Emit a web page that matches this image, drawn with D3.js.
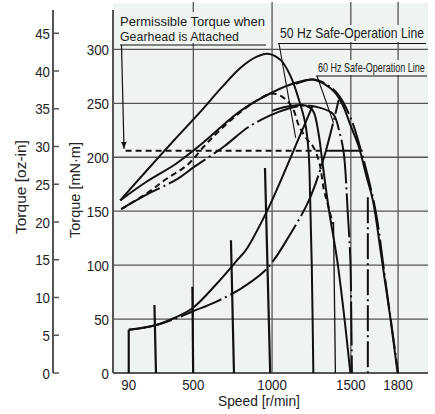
<!DOCTYPE html>
<html>
<head>
<meta charset="utf-8">
<script src="https://cdn.jsdelivr.net/npm/d3@7"></script>
<style>
  body { margin: 0; background: #fff; }
  svg text { font-family: "Liberation Sans", Arial, sans-serif; fill: #222; }
</style>
</head>
<body>
<div id="chart"></div>
<script>
// tick values
var speedTicks = [90, 500, 1000, 1500, 1800];
var torqueTicks = [0, 50, 100, 150, 200, 250, 300];
var ozTicks = [0, 5, 10, 15, 20, 25, 30, 35, 40, 45];

// curves, [speed r/min, torque mN·m]
var topCurve = [[36,160],[200,187],[379,216],[550,243],[676,264],[800,283],[900,293],[971,296],[1055,290],[1118,275],[1171,253],[1210,232],[1232,205],[1242,160],[1252,100],[1262,0]];
var curve60 = [[36,160],[200,177],[390,194],[550,212],[676,228],[800,243],[1000,260],[1150,269],[1260,272],[1330,268],[1400,260],[1450,248],[1497,230],[1550,210],[1600,182],[1640,160],[1697,105],[1750,52],[1797,0]];
var curve60b = [[1150,268],[1260,272],[1340,268],[1420,258],[1500,236],[1565,206],[1655,152],[1720,85],[1800,0]];
var dashedCurve = [[42,152],[200,166],[330,180],[463,193],[580,212],[676,226],[800,242],[920,254],[1000,259],[1065,256],[1129,246],[1171,229],[1220,217],[1260,210],[1300,195],[1329,170],[1360,153],[1385,138]];
var dashDotCurve = [[42,152],[200,165],[400,180],[505,191],[695,210],[850,228],[992,239],[1100,245],[1213,248],[1300,246],[1388,240],[1430,222],[1455,204],[1480,150],[1497,105],[1503,50],[1507,0]];
var curve50 = [[1000,243],[1100,247],[1213,248],[1260,243],[1295,222],[1318,197],[1360,152],[1413,105],[1460,50],[1497,0]];
var safe50 = [[90,40],[253,44],[379,51],[494,60],[644,82],[781,105],[834,114],[971,151],[1060,180],[1139,207],[1200,228],[1255,247]];
var safe60 = [[90,40],[253,44],[379,50],[494,57],[644,66],[800,78],[949,94],[1013,105],[1100,125],[1234,160],[1330,200],[1423,253]];

// speed setting lines
var controlLines = [
  [[90,40],[90,0]],
  [[253,63],[263,0]],
  [[494,80],[499,0]],
  [[739,123],[758,0]],
  [[955,190],[988,0]]
];
var thinLine = [[1390,140],[1402,0]];
var control60 = [[1608,163],[1608,0]];

var gearTorque = 206;
var gearDashed = [70, 1360];
var gearSolid = [1360, 1575];
var safe50Target = [1150, 218];
var safe60Target = [1390, 232];

var width = 435, height = 414;

var svg = d3.select("#chart").append("svg")
  .attr("width", width)
  .attr("height", height);

var x = d3.scaleLinear().domain([-10, 1990]).range([113, 428]);
var y = d3.scaleLinear().domain([0, 336]).range([373, 10.5]);
var yOz = d3.scaleLinear().domain([0, 48]).range([373, 10.6]);

var bg = "#eff4f1";

// condensed text: measure, then squeeze horizontally to the wanted width
function squeezed(parent, tx, ty, str, size, w, anchor, rotate) {
  var t = parent.append("text").attr("font-size", size).text(str);
  var natural = t.node().getComputedTextLength();
  var sx = w / natural;
  if (anchor === "middle") t.attr("x", -natural / 2);
  if (anchor === "end") t.attr("x", -natural);
  t.attr("transform", "translate(" + tx + "," + ty + ")" + (rotate ? " rotate(" + rotate + ")" : "") + " scale(" + sx + ",1)");
  return t;
}

// plot background
svg.append("rect")
  .attr("x", x.range()[0]).attr("y", 3)
  .attr("width", x.range()[1] - x.range()[0]).attr("height", y(0) - 3)
  .attr("fill", bg);

// grid
svg.append("g").selectAll("line")
  .data(torqueTicks.filter(function(d) { return d > 0; }))
  .enter().append("line")
    .attr("x1", x.range()[0]).attr("x2", x.range()[1])
    .attr("y1", function(d) { return y(d); }).attr("y2", function(d) { return y(d); })
    .attr("stroke", "#555").attr("stroke-width", 1.3);

svg.append("g").selectAll("line")
  .data(speedTicks.filter(function(d) { return d > 90; }))
  .enter().append("line")
    .attr("x1", function(d) { return x(d); }).attr("x2", function(d) { return x(d); })
    .attr("y1", y(0)).attr("y2", 2)
    .attr("stroke", "#555").attr("stroke-width", 1.3);

// label boxes hide the grid behind the text
svg.append("rect").attr("x", 117).attr("y", 12).attr("width", 152).attr("height", 31).attr("fill", bg);
svg.append("rect").attr("x", 277).attr("y", 25).attr("width", 150).attr("height", 17).attr("fill", bg);
svg.append("rect").attr("x", 316).attr("y", 60).attr("width", 111).attr("height", 15).attr("fill", bg);

// axes
svg.append("line")
  .attr("x1", x.range()[0]).attr("x2", x.range()[0])
  .attr("y1", 10).attr("y2", y(0))
  .attr("stroke", "#555").attr("stroke-width", 2);
svg.append("line")
  .attr("x1", x.range()[0]).attr("x2", x.range()[1])
  .attr("y1", y(0)).attr("y2", y(0))
  .attr("stroke", "#555").attr("stroke-width", 2);

function digits(d) { return String(d).length * 7.4; }

var ozAxis = svg.append("g").attr("transform", "translate(53,0)");
ozAxis.append("line").attr("y1", 10).attr("y2", yOz(0)).attr("stroke", "#555").attr("stroke-width", 2);
ozAxis.selectAll("line.tick")
  .data(ozTicks)
  .enter().append("line")
    .attr("class", "tick")
    .attr("x1", 0).attr("x2", 6)
    .attr("y1", function(d) { return yOz(d); }).attr("y2", function(d) { return yOz(d); })
    .attr("stroke", "#555").attr("stroke-width", 1.5);
ozTicks.forEach(function(d) {
  squeezed(ozAxis, -3, yOz(d) + 5.5, d, 15, digits(d), "end");
});
torqueTicks.forEach(function(d) {
  squeezed(svg, 109, y(d) + 5.5, d, 15, digits(d), "end");
});
speedTicks.forEach(function(d) {
  squeezed(svg, x(d), 390, d, 15, digits(d), "middle");
});

// axis titles
squeezed(svg, 26, 187, "Torque [oz-in]", 14, 94, "middle", -90);
squeezed(svg, 80, 190, "Torque [mN·m]", 14, 96, "middle", -90);
squeezed(svg, 259, 406, "Speed [r/min]", 14, 82, "middle");

// curves
var line = d3.line()
  .x(function(d) { return x(d[0]); })
  .y(function(d) { return y(d[1]); })
  .curve(d3.curveCatmullRom.alpha(0.5));
var straight = d3.line()
  .x(function(d) { return x(d[0]); })
  .y(function(d) { return y(d[1]); });

function draw(data, gen, dash, w) {
  svg.append("path")
    .attr("d", gen(data))
    .attr("fill", "none")
    .attr("stroke", "#111")
    .attr("stroke-width", w || 2)
    .attr("stroke-dasharray", dash || null);
}

draw(safe50, line);
draw(safe60, line, "44,4,2,4");
draw(topCurve, line);
draw(curve60, line);
draw(curve60b, line, "30,4,2,4");
draw(dashedCurve, line, "6,4");
draw(dashDotCurve, line, "44,4,2,4");
draw(curve50, line);
controlLines.forEach(function(c) { draw(c, straight, null, 2.2); });
draw(thinLine, straight, null, 1.3);
draw(control60, straight, "26,4,2,4");

// permissible torque with gearhead
draw([[gearDashed[0], gearTorque], [gearDashed[1], gearTorque]], straight, "6,4");
draw([[gearSolid[0], gearTorque], [gearSolid[1], gearTorque]], straight, null, 2.2);

// annotations
svg.append("defs").append("marker")
  .attr("id", "arrow")
  .attr("viewBox", "0 0 10 10")
  .attr("refX", 10).attr("refY", 5)
  .attr("markerWidth", 6).attr("markerHeight", 6)
  .attr("orient", "auto")
  .append("path").attr("d", "M0,1L10,5L0,9Z").attr("fill", "#111");

squeezed(svg, 120, 26, "Permissible Torque when", 13, 145);
squeezed(svg, 120, 41, "Gearhead is Attached", 13, 119);
svg.append("line").attr("x1", 120).attr("x2", 266).attr("y1", 45).attr("y2", 45)
  .attr("stroke", "#111").attr("stroke-width", 1.2);
svg.append("line").attr("x1", 121.5).attr("y1", 45).attr("x2", 124).attr("y2", y(gearTorque) - 2)
  .attr("stroke", "#111").attr("stroke-width", 1.2)
  .attr("marker-end", "url(#arrow)");

squeezed(svg, 280, 38, "50 Hz Safe-Operation Line", 14, 144);
svg.append("line").attr("x1", 278).attr("x2", 426).attr("y1", 43.5).attr("y2", 43.5)
  .attr("stroke", "#111").attr("stroke-width", 1.2);
svg.append("line").attr("x1", 279).attr("y1", 43.5)
  .attr("x2", x(safe50Target[0])).attr("y2", y(safe50Target[1]))
  .attr("stroke", "#111").attr("stroke-width", 1.1);

squeezed(svg, 318, 72, "60 Hz Safe-Operation Line", 12, 107);
svg.append("line").attr("x1", 316).attr("x2", 427).attr("y1", 76).attr("y2", 76)
  .attr("stroke", "#111").attr("stroke-width", 1.2);
svg.append("line").attr("x1", 317).attr("y1", 76)
  .attr("x2", x(safe60Target[0])).attr("y2", y(safe60Target[1]))
  .attr("stroke", "#111").attr("stroke-width", 1.1);
</script>
</body>
</html>
